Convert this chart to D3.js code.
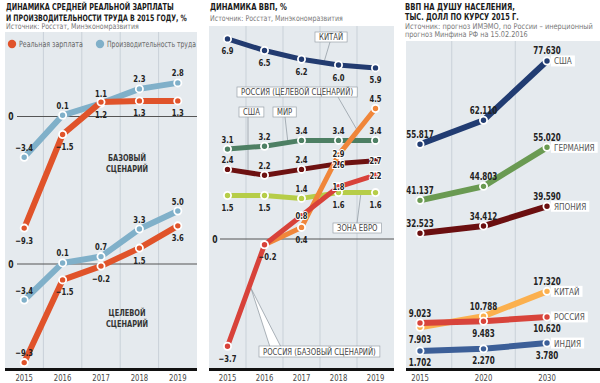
<!DOCTYPE html>
<html><head><meta charset="utf-8">
<script src="https://cdn.jsdelivr.net/npm/d3@7"></script>
<style>
html,body{margin:0;padding:0;background:#fff;}
svg{display:block;}
text{font-family:"Liberation Sans Narrow","DejaVu Sans Condensed","Roboto",sans-serif;}
</style></head>
<body>
<svg id="c" width="600" height="383"></svg>
<script>
// ---------- DATA ----------
const years = ["2015","2016","2017","2018","2019"];
// Panel 1: base scenario
const wageBase = [-9.3, -1.5, 1.2, 1.3, 1.3];
const prodBase = [-3.4, 0.1, 1.1, 2.3, 2.8];
// Panel 1: target scenario
const wageTarget = [-9.3, -1.5, -0.2, 1.5, 3.6];
const prodTarget = [-3.4, 0.1, 0.7, 3.3, 5.0];
// Panel 2: GDP dynamics
const gdpChina = [6.9, 6.5, 6.2, 6.0, 5.9];
const gdpWorld = [3.1, 3.2, 3.4, 3.4, 3.4];
const gdpUSA = [2.4, 2.2, 2.4, 2.6, 2.7];
const gdpEuro = [1.5, 1.5, 1.4, 1.6, 1.6];
const gdpRusBase = [-3.7, -0.2, 0.8, 1.8, 2.2];
const gdpRusTarget = [null, -0.2, 0.4, 2.9, 4.5];
// Panel 3: GDP per capita
const pcYears = ["2015","2020","2030"];
const pcUSA = [55.817, 62.110, 77.630];
const pcGermany = [41.137, 44.803, 55.020];
const pcJapan = [32.523, 34.412, 39.590];
const pcChina = [7.903, 10.788, 17.320];
const pcRussia = [9.023, 9.483, 10.620];
const pcIndia = [1.702, 2.270, 3.780];

// label placement (a = above, b = below, c = on point)
const posWageBase = ["b","b","b","b","b"];
const posProdBase = ["a","a","a","a","a"];
const posWageTarget = ["a","b","b","b","b"];
const posProdTarget = ["a","a","a","a","a"];

const svg = d3.select("#c");
const BG = "#e5eaee", GRID = "#c9d1d8";

function fmt1(v){ return d3.format(".1f")(v); }
function fmt3(v){ return d3.format(".3f")(v); }
// horizontal condensing through a transform (keeps the anchor point fixed)
function sq(t,f){
  const L = t.node().getComputedTextLength();
  const x = +t.attr("x"), y = +t.attr("y");
  t.attr("x",0).attr("y",0).attr("transform",`translate(${x},${y}) scale(${f},1)`);
  return L*f;
}
function fitTo(t,w){
  const L = t.node().getComputedTextLength();
  return sq(t, w/L);
}

function panelBg(x0,x1,y0,y1){
  svg.append("rect").attr("x",x0).attr("y",y0).attr("width",x1-x0).attr("height",y1-y0).attr("fill",BG);
  svg.append("rect").attr("x",x0).attr("y",368).attr("width",x1-x0).attr("height",3).attr("fill","#111");
}
function title(lines,widths,x,y0,dy){
  lines.forEach((t,i)=>fitTo(svg.append("text").attr("x",x).attr("y",y0+i*dy).text(t)
    .attr("font-size",8.8).attr("font-weight","bold").attr("fill","#1a1a1a"),widths[i]));
}
function source(lines,widths,x,y0,dy){
  lines.forEach((t,i)=>fitTo(svg.append("text").attr("x",x).attr("y",y0+i*dy).text(t)
    .attr("font-size",8).attr("fill","#777"),widths[i]));
}
function drawSeries(g, xs, ys, data, keys, color, width, r){
  const pts = data.map((v,i)=>({k:keys[i],v})).filter(d=>d.v!==null);
  const line = d3.line().x(d=>xs(d.k)).y(d=>ys(d.v));
  g.append("path").datum(pts).attr("d",line).attr("fill","none").attr("stroke",color)
    .attr("stroke-width",width).attr("stroke-linejoin","round").attr("stroke-linecap","round");
  g.selectAll(null).data(pts).join("circle").attr("cx",d=>xs(d.k)).attr("cy",d=>ys(d.v))
    .attr("r",r).attr("fill",color).attr("stroke","#fff").attr("stroke-width",1.8);
}
function drawLabels(g, xs, ys, data, keys, pos, f, size, dxs, dys){
  data.forEach((v,i)=>{
    if(v===null || !pos[i]) return;
    const p = pos[i];
    const dy = (p==="a" ? -6.5 : p==="b" ? 15.5 : 3.5) + (dys?dys[i]:0);
    const t = g.append("text").attr("x",xs(keys[i])+(dxs?dxs[i]:0)).attr("y",ys(v)+dy)
      .attr("text-anchor","middle").attr("font-size",size).attr("font-weight","bold")
      .attr("fill","#222").text(f(v));
    sq(t,0.8);
    if(p==="c") t.attr("stroke","#fff").attr("stroke-width",2).attr("paint-order","stroke");
  });
}
function callout(text,x,y,h,size){
  const t = svg.append("text").attr("x",x+4).attr("y",y+h/2+3).attr("font-size",size||8.5)
    .attr("fill","#444").text(text);
  const w = sq(t,0.9)+8;
  svg.insert("rect", function(){return t.node();}).attr("x",x).attr("y",y).attr("width",w).attr("height",h)
    .attr("fill","#fff").attr("stroke","#9aa3aa").attr("stroke-width",0.7);
  return w;
}
function leader(x1,y1,x2,y2){
  svg.append("line").attr("x1",x1).attr("y1",y1).attr("x2",x2).attr("y2",y2)
    .attr("stroke","#8a949c").attr("stroke-width",0.7);
}
function yearLabels(keys, xs){
  keys.forEach(y=>sq(svg.append("text").attr("x",xs(y)).attr("y",381).attr("text-anchor","middle")
    .attr("font-size",9).attr("fill","#444").text(y),0.85));
}
function zeroLabel(x,y){
  sq(svg.append("text").attr("x",x).attr("y",y+3.5).attr("font-size",10).attr("font-weight","bold")
    .attr("fill","#222").attr("text-anchor","middle").text("0"),0.85);
}

// ================= PANEL 1 =================
const x1 = d3.scaleBand().domain(years).range([5,197]);
const fx1 = k=>x1(k)+x1.bandwidth()/2;
const y1a = d3.scaleLinear().domain([-10,5]).range([236.5,56.5]);
const y1b = d3.scaleLinear().domain([-10,5]).range([370,211]);
panelBg(5,197,32,368);
years.slice(1).forEach(y=>svg.append("line").attr("x1",x1(y)).attr("x2",x1(y)).attr("y1",32).attr("y2",368)
  .attr("stroke",GRID).attr("stroke-width",1));
title(["ДИНАМИКА СРЕДНЕЙ РЕАЛЬНОЙ ЗАРПЛАТЫ","И ПРОИЗВОДИТЕЛЬНОСТИ ТРУДА В 2015 ГОДУ, %"],[168,181],6,10.3,10.4);
source(["Источник: Росстат, Минэкономразвития"],[133],6,29.2,9);
// legend
const WAGE="#e0532a", PROD="#80b0c9";
svg.append("circle").attr("cx",12).attr("cy",44).attr("r",4.2).attr("fill",WAGE);
fitTo(svg.append("text").attr("x",19).attr("y",47).attr("font-size",8.5).attr("fill","#666").text("Реальная зарплата"),64);
svg.append("circle").attr("cx",100).attr("cy",44).attr("r",4.2).attr("fill",PROD);
fitTo(svg.append("text").attr("x",107).attr("y",47).attr("font-size",8.5).attr("fill","#666").text("Производительность труда"),89);
// zero lines
[y1a,y1b].forEach(ys=>{
  svg.append("line").attr("x1",17).attr("x2",197).attr("y1",ys(0)).attr("y2",ys(0)).attr("stroke","#555").attr("stroke-width",1);
  zeroLabel(11,ys(0));
});
const g1 = svg.append("g");
drawSeries(g1,fx1,y1a,prodBase,years,PROD,6,3.6);
drawSeries(g1,fx1,y1a,wageBase,years,WAGE,6,3.6);
drawSeries(g1,fx1,y1b,prodTarget,years,PROD,6,3.6);
drawSeries(g1,fx1,y1b,wageTarget,years,WAGE,6,3.6);
drawLabels(g1,fx1,y1a,prodBase,years,posProdBase,fmt1,9.5);
drawLabels(g1,fx1,y1a,wageBase,years,posWageBase,fmt1,9.5,[0,2,0,0,0]);
drawLabels(g1,fx1,y1b,prodTarget,years,posProdTarget,fmt1,9.5);
drawLabels(g1,fx1,y1b,wageTarget,years,posWageTarget,fmt1,9.5,[0,2,0,0,0]);
[["БАЗОВЫЙ","СЦЕНАРИЙ",y1a(-3.4)],["ЦЕЛЕВОЙ","СЦЕНАРИЙ",y1b(-4.6)]].forEach(s=>{
  sq(svg.append("text").attr("x",127).attr("y",s[2]+3.5).attr("text-anchor","middle").attr("font-size",9).attr("font-weight","bold").attr("fill","#333").text(s[0]),0.82);
  sq(svg.append("text").attr("x",127).attr("y",s[2]+14.5).attr("text-anchor","middle").attr("font-size",9).attr("font-weight","bold").attr("fill","#333").text(s[1]),0.82);
});
yearLabels(years,fx1);

// ================= PANEL 2 =================
const x2 = d3.scaleBand().domain(years).range([209,394]);
const fx2 = k=>x2(k)+x2.bandwidth()/2;
const y2 = d3.scaleLinear().domain([-4,7]).range([355,36]);
panelBg(209,394,26,368);
years.slice(1).forEach(y=>svg.append("line").attr("x1",x2(y)).attr("x2",x2(y)).attr("y1",26).attr("y2",368)
  .attr("stroke",GRID).attr("stroke-width",1));
title(["ДИНАМИКА ВВП, %"],[77],210,10.3,10);
source(["Источник: Росстат, Минэкономразвития"],[133],210,20.5,9);
svg.append("line").attr("x1",220).attr("x2",394).attr("y1",y2(0)).attr("y2",y2(0)).attr("stroke","#555").attr("stroke-width",1);
zeroLabel(215,y2(0));
const C_CHINA="#223b70", C_WORLD="#4d7f63", C_USA="#6d1111", C_EURO="#b6cd48", C_RB="#d8423a", C_RT="#f0863a";
// callout leaders (under lines)
leader(330,42,324,y2(6.1));
leader(338,97,358,y2(3.7));
leader(248,117,248,y2(2.3));
leader(285,117,288,y2(3.3));
leader(357,223,361,y2(1.6));
svg.append("path").attr("d",d3.line()([[251,y2(-1.7)],[270,347],[281,347]])+"Z").attr("fill","#fff").attr("stroke","#8a949c").attr("stroke-width",0.7);
const g2 = svg.append("g");
drawSeries(g2,fx2,y2,gdpEuro,years,C_EURO,5,3.6);
drawSeries(g2,fx2,y2,gdpWorld,years,C_WORLD,5,3.6);
drawSeries(g2,fx2,y2,gdpUSA,years,C_USA,5,3.6);
drawSeries(g2,fx2,y2,gdpChina,years,C_CHINA,5,3.6);
drawSeries(g2,fx2,y2,gdpRusTarget,years,C_RT,5,3.6);
drawSeries(g2,fx2,y2,gdpRusBase,years,C_RB,5,3.6);
callout("КИТАЙ",315,32,10);
callout("РОССИЯ (ЦЕЛЕВОЙ СЦЕНАРИЙ)",237,87,10);
callout("США",239,107,10);
callout("МИР",273,107,10);
callout("ЗОНА ЕВРО",333,223,10);
callout("РОССИЯ (БАЗОВЫЙ СЦЕНАРИЙ)",259,346,11);
drawLabels(g2,fx2,y2,gdpChina,years,["b","b","b","b","b"],fmt1,9.5);
drawLabels(g2,fx2,y2,gdpWorld,years,["a","a","a","a","a"],fmt1,9.5);
drawLabels(g2,fx2,y2,gdpUSA,years,["a","a","a","c","c"],fmt1,9.5,null,[0,0,0,1,0]);
drawLabels(g2,fx2,y2,gdpEuro,years,["b","b","a","b","b"],fmt1,9.5);
drawLabels(g2,fx2,y2,gdpRusBase,years,["b","b","c","c","c"],fmt1,9.5,[0,3,0,0,0]);
drawLabels(g2,fx2,y2,gdpRusTarget,years,[null,null,"b","c","a"],fmt1,9.5,null,[0,0,0,-1.5,0]);
yearLabels(years,fx2);

// ================= PANEL 3 =================
const x3 = d3.scalePoint().domain(pcYears).range([420,547]);
const y3 = d3.scaleLinear().domain([0,80]).range([357.5,51.9]);
panelBg(406,600,41,368);
d3.pairs(pcYears).forEach(([a,b])=>{
  const gx = (x3(a)+x3(b))/2;
  svg.append("line").attr("x1",gx).attr("x2",gx).attr("y1",41).attr("y2",368).attr("stroke",GRID).attr("stroke-width",1);
});
title(["ВВП НА ДУШУ НАСЕЛЕНИЯ,","ТЫС. ДОЛЛ ПО КУРСУ 2015 Г."],[110,114],405,9.6,10.3);
source(["Источник: прогноз ИМЭМО, по России – инерционный","прогноз Минфина РФ на 15.02.2016"],[188,123],405,28.5,8.5);
const P_USA="#213c72", P_GER="#6a9a52", P_JAP="#6b0f10", P_CHN="#fbb04e", P_RUS="#d8443b", P_IND="#3c5f98";
const g3 = svg.append("g");
const series3 = [
  [pcUSA,P_USA,"США",["a","a","a"]],
  [pcGermany,P_GER,"ГЕРМАНИЯ",["a","a","a"]],
  [pcJapan,P_JAP,"ЯПОНИЯ",["a","a","a"]],
  [pcChina,P_CHN,"КИТАЙ",["b","a","a"]],
  [pcRussia,P_RUS,"РОССИЯ",["a","b","b"]],
  [pcIndia,P_IND,"ИНДИЯ",["b","b","b"]]
];
series3.forEach(s=>drawSeries(g3,x3,y3,s[0],pcYears,s[1],6,3.6));
series3.forEach(s=>{
  const last = s[0][s[0].length-1];
  const t = svg.append("text").attr("x",554).attr("y",y3(last)+3.5).attr("font-size",9).attr("fill","#555").text(s[2]);
  const w = sq(t,0.9);
  svg.insert("rect",function(){return t.node();}).attr("x",551).attr("y",y3(last)-5.5).attr("width",w+6).attr("height",11).attr("fill","#fff");
});
series3.forEach(s=>drawLabels(g3,x3,y3,s[0],pcYears,s[3],fmt3,10));
yearLabels(pcYears,x3);
</script>
</body></html>
